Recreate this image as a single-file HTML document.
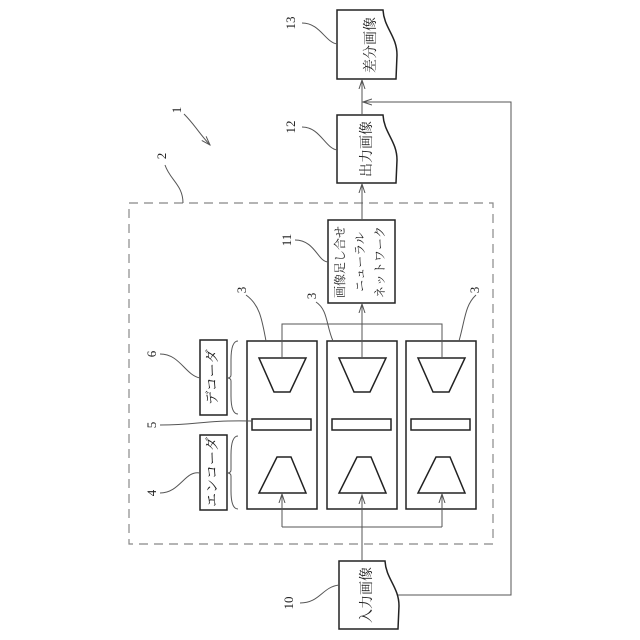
<!DOCTYPE html>
<html><head><meta charset="utf-8"><style>
html,body{margin:0;padding:0;background:#fff}
svg{display:block}
text{font-family:"Liberation Serif","Noto Serif CJK SC","Noto Sans CJK JP",serif;fill:#222}
</style></head><body>
<svg width="640" height="640" viewBox="0 0 640 640" xmlns="http://www.w3.org/2000/svg">
<defs>
<marker id="a" markerWidth="10" markerHeight="10" refX="9" refY="5" orient="auto" markerUnits="userSpaceOnUse">
<path d="M0,2 L9,5 L0,8" fill="none" stroke="#555" stroke-width="1"/></marker>
</defs>
<g fill="none" stroke="#666" stroke-width="1.2">
<rect x="129" y="203" width="364" height="341" stroke-dasharray="9,6" stroke="#888"/>
</g>
<g fill="none" stroke="#222" stroke-width="1.5">
<rect x="247" y="341" width="70" height="168"/>
<rect x="327" y="341" width="70" height="168"/>
<rect x="406" y="341" width="70" height="168"/>
<rect x="252" y="419" width="59" height="11"/>
<rect x="332" y="419" width="59" height="11"/>
<rect x="411" y="419" width="59" height="11"/>
<path d="M259,358 L306,358 L290,392 L274,392 Z"/>
<path d="M339,358 L386,358 L370,392 L354,392 Z"/>
<path d="M418,358 L465,358 L449,392 L433,392 Z"/>
<path d="M277,457 L291,457 L306,493 L259,493 Z"/>
<path d="M357,457 L371,457 L386,493 L339,493 Z"/>
<path d="M436,457 L450,457 L465,493 L418,493 Z"/>
<rect x="200" y="340" width="27" height="75"/>
<rect x="200" y="435" width="27" height="75"/>
<rect x="328" y="220" width="67" height="83"/>
<path d="M337,10 L383,10 C384,28 397,36 397,55 L396,79 L337,79 Z"/>
<path d="M337,115 L383,115 C384,133 397,141 397,160 L396,183 L337,183 Z"/>
<path d="M339,561 L385,561 C386,579 399,587 399,606 L398,629 L339,629 Z"/>
</g>
<g fill="none" stroke="#555" stroke-width="1">
<path d="M362,561 L362,495" marker-end="url(#a)"/>
<path d="M282,527 L442,527"/>
<path d="M282,527 L282,494" marker-end="url(#a)"/>
<path d="M442,527 L442,494" marker-end="url(#a)"/>
<path d="M282,358 L282,324 L442,324 L442,358"/>
<path d="M362,358 L362,304" marker-end="url(#a)"/>
<path d="M362,220 L362,184" marker-end="url(#a)"/>
<path d="M362,115 L362,80" marker-end="url(#a)"/>
<path d="M398,595 L511,595 L511,102 L363,102" marker-end="url(#a)"/>
<path d="M238,341 Q231,341 231,360 L231,375 Q231,378 227,378 Q231,378 231,381 L231,396 Q231,414 238,414"/>
<path d="M238,436 Q231,436 231,455 L231,470 Q231,473 227,473 Q231,473 231,476 L231,491 Q231,509 238,509"/>
<path d="M160,493 C180,493 185,470 200,473"/>
<path d="M160,425 C200,425 200,420 252,421"/>
<path d="M160,354 C180,354 185,375 200,378"/>
<path d="M246,295 C260,305 262,320 266,341"/>
<path d="M316,302 C328,310 326,325 333,341"/>
<path d="M476,295 C465,305 465,320 459,341"/>
<path d="M295,240 C315,240 318,262 328,262"/>
<path d="M165,165 C170,180 183,185 183,203"/>
<path d="M184,114 C195,125 198,132 210,145" marker-end="url(#a)"/>
<path d="M302,127 C320,127 325,148 337,150"/>
<path d="M302,23 C320,23 325,42 337,44"/>
<path d="M300,603 C320,603 322,587 339,585"/>
</g>
<g font-size="14">
<text transform="translate(372,45) rotate(-90)" text-anchor="middle" dominant-baseline="middle">差分画像</text>
<text transform="translate(368,149) rotate(-90)" text-anchor="middle" dominant-baseline="middle">出力画像</text>
<text transform="translate(368,595) rotate(-90)" text-anchor="middle" dominant-baseline="middle">入力画像</text>
<text transform="translate(214,377) rotate(-90)" text-anchor="middle" dominant-baseline="middle">デコーダ</text>
<text transform="translate(214,472) rotate(-90)" text-anchor="middle" dominant-baseline="middle">エンコーダ</text>
</g>
<g font-size="12">
<text transform="translate(341,262) rotate(-90)" text-anchor="middle" dominant-baseline="middle">画像足し合せ</text>
<text transform="translate(361,262) rotate(-90)" text-anchor="middle" dominant-baseline="middle">ニューラル</text>
<text transform="translate(381,262) rotate(-90)" text-anchor="middle" dominant-baseline="middle">ネットワーク</text>
</g>
<g font-size="13">
<text transform="translate(153,493) rotate(-90)" text-anchor="middle" dominant-baseline="middle">4</text>
<text transform="translate(153,425) rotate(-90)" text-anchor="middle" dominant-baseline="middle">5</text>
<text transform="translate(153,354) rotate(-90)" text-anchor="middle" dominant-baseline="middle">6</text>
<text transform="translate(243,290) rotate(-90)" text-anchor="middle" dominant-baseline="middle">3</text>
<text transform="translate(313,296) rotate(-90)" text-anchor="middle" dominant-baseline="middle">3</text>
<text transform="translate(476,290) rotate(-90)" text-anchor="middle" dominant-baseline="middle">3</text>
<text transform="translate(288,240) rotate(-90)" text-anchor="middle" dominant-baseline="middle">11</text>
<text transform="translate(163,156) rotate(-90)" text-anchor="middle" dominant-baseline="middle">2</text>
<text transform="translate(178,110) rotate(-90)" text-anchor="middle" dominant-baseline="middle">1</text>
<text transform="translate(292,127) rotate(-90)" text-anchor="middle" dominant-baseline="middle">12</text>
<text transform="translate(292,23) rotate(-90)" text-anchor="middle" dominant-baseline="middle">13</text>
<text transform="translate(290,603) rotate(-90)" text-anchor="middle" dominant-baseline="middle">10</text>
</g>
</svg>
</body></html>
